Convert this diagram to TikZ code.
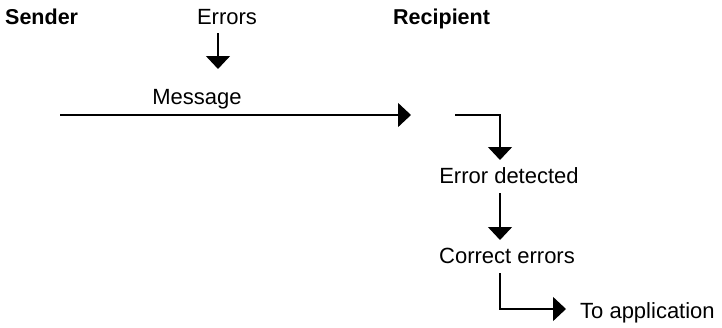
\documentclass[tikz,border=0pt]{standalone}
\usepackage{fontspec}
\setmainfont{Liberation Sans}
\usetikzlibrary{arrows.meta}
\begin{document}
\begin{tikzpicture}[x=1pt,y=-1pt,
  lbl/.style={inner sep=0pt,anchor=base,font=\fontsize{22}{26}\selectfont},
  hdr/.style={lbl,font=\fontsize{21.5}{26}\selectfont\bfseries},
  arr/.style={line width=1.4pt,-{Triangle[length=13pt,width=24pt]}}]
\useasboundingbox (0,0) rectangle (722,327);
\node[hdr,anchor=base west] (sender) at (5,24) {Sender};
\node[lbl] (errors) at (227,24) {Errors};
\node[hdr,anchor=base west] (recipient) at (393,24) {Recipient};
\node[lbl] (message) at (197,104) {Message};
\node[lbl] (detected) at (509,183) {Error detected};
\node[lbl] (correct) at (507,263) {Correct errors};
\node[lbl,anchor=base west] (toapp) at (580,318) {To application};
\coordinate (errtop) at (218,33);
\coordinate (errtip) at (218,69);
\coordinate (msgstart) at (60,115);
\coordinate (msgtip) at (411,115);
\coordinate (rstart) at (455,115);
\coordinate (dettip) at (500,160);
\coordinate (dettop) at (500,193);
\coordinate (cortip) at (500,240);
\coordinate (cortop) at (500,273);
\coordinate (apptip) at (566,309);
\draw[arr] (errtop) -- (errtip);
\draw[arr] (msgstart) -- (msgtip);
\draw[arr] (rstart) -| (dettip);
\draw[arr] (dettop) -- (cortip);
\draw[arr] (cortop) |- (apptip);
\end{tikzpicture}
\end{document}
